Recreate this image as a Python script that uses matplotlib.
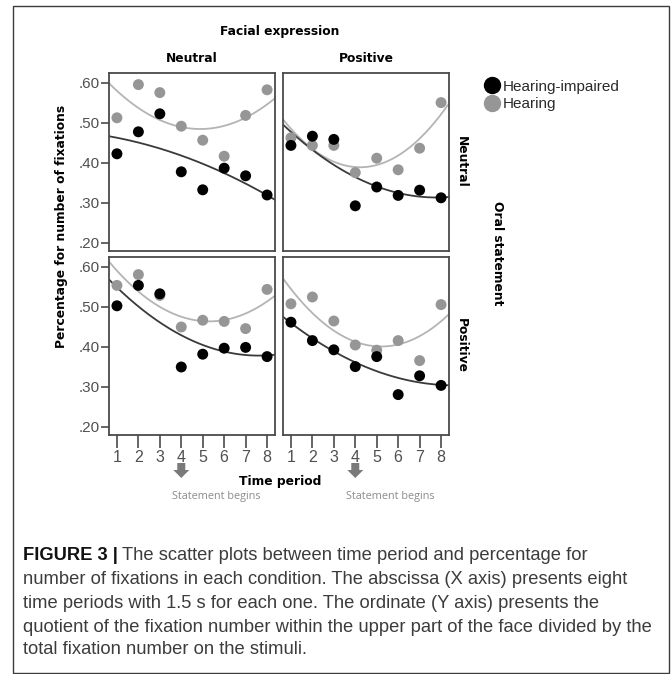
import numpy as np
import matplotlib.pyplot as plt
from matplotlib.lines import Line2D
from matplotlib.patches import Rectangle, Polygon

periods = [1, 2, 3, 4, 5, 6, 7, 8]

# columns = facial expression, rows = oral statement
face_levels = ["Neutral", "Positive"]
oral_levels = ["Neutral", "Positive"]
group_names = ["Hearing-impaired", "Hearing"]

# face neutral / oral neutral
impaired_nn = [0.423, 0.478, 0.523, 0.378, 0.333, 0.387, 0.368, 0.320]
hearing_nn = [0.513, 0.596, 0.576, 0.492, 0.457, 0.417, 0.519, 0.583]
# face positive / oral neutral
impaired_pn = [0.444, 0.467, 0.459, 0.293, 0.340, 0.319, 0.332, 0.313]
hearing_pn = [0.463, 0.444, 0.444, 0.376, 0.412, 0.383, 0.437, 0.551]
# face neutral / oral positive
impaired_np = [0.503, 0.554, 0.533, 0.350, 0.382, 0.397, 0.399, 0.376]
hearing_np = [0.554, 0.581, 0.529, 0.450, 0.467, 0.464, 0.446, 0.544]
# face positive / oral positive
impaired_pp = [0.462, 0.416, 0.393, 0.351, 0.376, 0.281, 0.328, 0.304]
hearing_pp = [0.508, 0.525, 0.465, 0.405, 0.392, 0.416, 0.366, 0.506]

y_ticks = [0.20, 0.30, 0.40, 0.50, 0.60]
statement_start = 4

caption_bold = "FIGURE 3 |"
caption_lines = [
    "The scatter plots between time period and percentage for",
    "number of fixations in each condition. The abscissa (X axis) presents eight",
    "time periods with 1.5 s for each one. The ordinate (Y axis) presents the",
    "quotient of the fixation number within the upper part of the face divided by the",
    "total fixation number on the stimuli.",
]

W, H = 672, 674
fig = plt.figure(figsize=(W / 100, H / 100), dpi=100)


def box(x0, y0, x1, y1):
    return [x0 / W, 1 - y1 / H, (x1 - x0) / W, (y1 - y0) / H]


def fx(x):
    return x / W


def fy(y):
    return 1 - y / H


BOLD = dict(family="DejaVu Sans", fontweight="bold", fontsize=8.8, color="black")
C_IMP, C_HEAR = "black", "#969696"
L_IMP, L_HEAR = "#3a3a3a", "#b4b4b4"

panels = {
    (0, 0): (impaired_nn, hearing_nn),
    (0, 1): (impaired_pn, hearing_pn),
    (1, 0): (impaired_np, hearing_np),
    (1, 1): (impaired_pp, hearing_pp),
}
xs = [(109, 275), (283, 449)]
ys = [(73, 251), (257, 435)]
xgrid = np.linspace(0.63, 8.37, 200)
axes = {}

for (r, c), (imp, hear) in panels.items():
    ax = fig.add_axes(box(xs[c][0], ys[r][0], xs[c][1], ys[r][1]))
    axes[(r, c)] = ax
    for vals, col, lcol in [(hear, C_HEAR, L_HEAR), (imp, C_IMP, L_IMP)]:
        coef = np.polyfit(periods, vals, 2)
        ax.plot(xgrid, np.polyval(coef, xgrid), color=lcol, lw=1.3, zorder=2)
        ax.scatter(periods, vals, s=62, color=col, edgecolors="none", zorder=3,
                   clip_on=False)
    ax.set_xlim(0.63, 8.37)
    ax.set_ylim(0.18, 0.625)
    for sp in ax.spines.values():
        sp.set_color("#4a4a4a")
        sp.set_linewidth(1.3)
    ax.set_yticks(y_ticks)
    ax.set_yticklabels([f"{v:.2f}"[1:] for v in y_ticks])
    ax.set_xticks(periods)
    ax.tick_params(axis="y", length=6, width=1.2, color="#4a4a4a", pad=1,
                   labelsize=11, labelcolor="#505050", left=(c == 0), labelleft=(c == 0))
    ax.tick_params(axis="x", length=9, width=1.2, color="#4a4a4a", pad=2,
                   labelsize=11.5, labelcolor="#505050", bottom=(r == 1), labelbottom=(r == 1))
    for lab in ax.get_xticklabels() + ax.get_yticklabels():
        lab.set_family("Liberation Sans")

# headings
fig.text(fx(280), fy(31), "Facial expression", ha="center", va="center", **BOLD)
for c, name in enumerate(face_levels):
    fig.text(fx((xs[c][0] + xs[c][1]) / 2), fy(59), name, ha="center", va="center", **BOLD)
for r, name in enumerate(oral_levels):
    fig.text(fx(461), fy((ys[r][0] + ys[r][1]) / 2), name, ha="center", va="center",
             rotation=-90, **BOLD)
fig.text(fx(498), fy(253), "Oral statement", ha="center", va="center", rotation=-90, **BOLD)
fig.text(fx(62), fy(226), "Percentage for number of fixations", ha="center", va="center",
         rotation=90, **BOLD)
fig.text(fx(280), fy(482), "Time period", ha="center", va="center", **BOLD)

# statement markers under the bottom panels
for c in range(2):
    ax = axes[(1, c)]
    xp = ax.transData.transform((statement_start, 0.3))[0]
    ytop = 463
    pts = [(xp - 4, ytop), (xp + 4, ytop), (xp + 4, ytop + 7), (xp + 8, ytop + 7),
           (xp, ytop + 15), (xp - 8, ytop + 7), (xp - 4, ytop + 7)]
    fig.patches.append(Polygon([(fx(a), fy(b)) for a, b in pts], closed=True,
                               transform=fig.transFigure, facecolor="#7a7a7a",
                               edgecolor="none"))
    fig.text(fx(xp - 9), fy(496), "Statement begins", ha="left", va="center",
             family="Open Sans", fontsize=7.8, color="#8c8c8c")

# legend
handles = [Line2D([], [], ls="", marker="o", markersize=11.5, color=C_IMP),
           Line2D([], [], ls="", marker="o", markersize=11.5, color=C_HEAR)]
leg = fig.legend(handles, group_names, loc="upper left", bbox_to_anchor=(fx(477), fy(72)),
                 frameon=False, handletextpad=0.2, labelspacing=0.22, handlelength=1.0,
                 borderpad=0, prop={"family": "Liberation Sans", "size": 11})
for t in leg.get_texts():
    t.set_color("#2a2a2a")

# outer frame
fig.patches.append(Rectangle((fx(13), fy(673)), fx(669) - fx(13), fy(6) - fy(673),
                             transform=fig.transFigure, fill=False,
                             edgecolor="#3c3c3c", lw=1.0))

# caption
renderer = fig.canvas.get_renderer()
cap_size = 12
probe = fig.text(0, 0, caption_bold + " " + caption_lines[0], family="Liberation Sans",
                 fontsize=cap_size)
wpx = probe.get_window_extent(renderer).width
probe.remove()
cap_size = cap_size * 568 / wpx
line_y = [555, 579, 603, 627, 650]
tb = fig.text(fx(23), fy(line_y[0]), caption_bold, ha="left", va="center",
              family="Liberation Sans", fontweight="bold", fontsize=cap_size, color="#111111")
bx = tb.get_window_extent(renderer).x1
fig.text(fx(bx + 4), fy(line_y[0]), caption_lines[0], ha="left", va="center",
         family="Liberation Sans", fontsize=cap_size, color="#3c3c3c")
for yy, line in zip(line_y[1:], caption_lines[1:]):
    fig.text(fx(23), fy(yy), line, ha="left", va="center",
             family="Liberation Sans", fontsize=cap_size, color="#3c3c3c")

fig.savefig("out.png", dpi=100)
